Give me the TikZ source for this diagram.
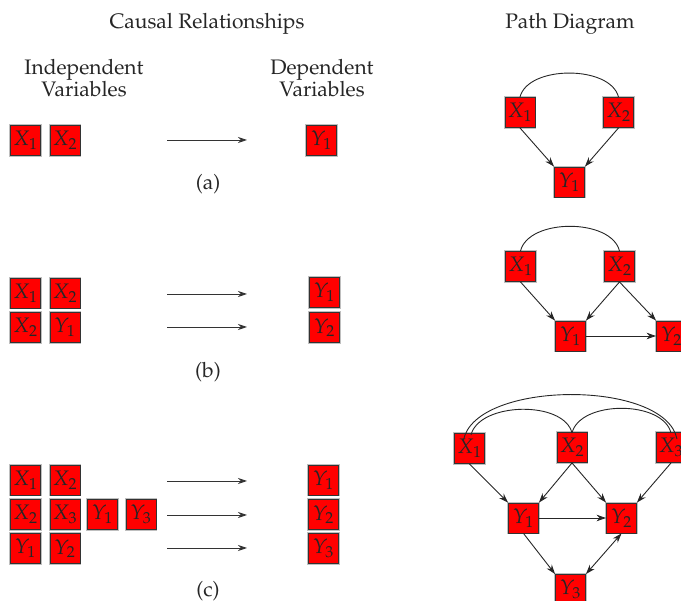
\documentclass[tikz,border=0pt]{standalone}
\usepackage[T1]{fontenc}
\usepackage{mathpazo}
\usetikzlibrary{arrows.meta}
\begin{document}
\begin{tikzpicture}[x=1pt,y=-1pt,
  every node/.style={font=\fontsize{21}{21.5}\selectfont},
  var/.style={draw=black!80,line width=0.9pt,fill=red,minimum size=30pt,inner sep=0pt,
    preaction={draw=black!25,line width=2.6pt},text=black!85},
  lbl/.style={align=center,text=black!85},
  harrow/.style={draw=black!80,line width=0.9pt,-{Stealth[length=9pt,width=6pt]}},
  parrow/.style={draw=black!85,line width=0.9pt,-{Stealth[length=9.5pt,width=6.5pt]}},
  darrow/.style={draw=black!85,line width=0.9pt,{Stealth[length=9.5pt,width=6.5pt]}-{Stealth[length=9.5pt,width=6.5pt]}},
  arcline/.style={draw=black!85,line width=0.9pt}]
\useasboundingbox (0,0) rectangle (681,601);
% headers
\node[lbl] (h1) at (207,24) {Causal Relationships};
\node[lbl] (h2) at (570,24) {Path Diagram};
\node[lbl] (h3) at (84,78) {Independent\\Variables};
\node[lbl] (h4) at (322,78) {Dependent\\Variables};
% (a) left
\node[var] (a1) at (25.5,140.5) {$X_1$};
\node[var] (a2) at (65,140.5) {$X_2$};
\node[var] (ay) at (321.5,140.5) {$Y_1$};
\coordinate (as) at (167,140);
\coordinate (ae) at (247,140);
\draw[harrow] (as) -- (ae);
\node[lbl] (la) at (208,184) {(a)};
% (a) right
\node[var] (pax1) at (520,112.5) {$X_1$};
\node[var] (pax2) at (618.5,112.5) {$X_2$};
\node[var] (pay1) at (569.5,182) {$Y_1$};
\draw[arcline] (pax1.north) .. controls +(8,-32) and +(-8,-32) .. (pax2.north);
\draw[parrow] (pax1.south) -- (pay1.north west);
\draw[parrow] (pax2.south) -- (pay1.north east);
% (b) left
\node[var] (b11) at (25.5,293) {$X_1$};
\node[var] (b12) at (65,293) {$X_2$};
\node[var] (b21) at (25.5,327.5) {$X_2$};
\node[var] (b22) at (65,327.5) {$Y_1$};
\node[var] (by1) at (324.5,292.5) {$Y_1$};
\node[var] (by2) at (324.5,327.5) {$Y_2$};
\coordinate (bs1) at (167,294);
\coordinate (be1) at (247,294);
\coordinate (bs2) at (167,327);
\coordinate (be2) at (247,327);
\draw[harrow] (bs1) -- (be1);
\draw[harrow] (bs2) -- (be2);
\node[lbl] (lb) at (208,372) {(b)};
% (b) right
\node[var] (pbx1) at (520.5,266.5) {$X_1$};
\node[var] (pbx2) at (619.5,266.5) {$X_2$};
\node[var] (pby1) at (570.5,336) {$Y_1$};
\node[var] (pby2) at (671.5,336) {$Y_2$};
\draw[arcline] (pbx1.north) .. controls +(8,-33) and +(-8,-33) .. (pbx2.north);
\draw[parrow] (pbx1.south) -- (pby1.north west);
\draw[parrow] (pbx2.south) -- (pby1.north east);
\draw[parrow] (pbx2.south) -- (pby2.north west);
\draw[parrow] (pby1.east) -- (pby2.west);
% (c) left
\node[var] (c11) at (25.5,480) {$X_1$};
\node[var] (c12) at (65,480) {$X_2$};
\node[var] (c21) at (25.5,514.5) {$X_2$};
\node[var] (c22) at (65,514.5) {$X_3$};
\node[var] (c23) at (102.5,514.5) {$Y_1$};
\node[var] (c24) at (141,514.5) {$Y_3$};
\node[var] (c31) at (25.5,548.5) {$Y_1$};
\node[var] (c32) at (65,548.5) {$Y_2$};
\node[var] (cy1) at (323.5,480) {$Y_1$};
\node[var] (cy2) at (323.5,514.5) {$Y_2$};
\node[var] (cy3) at (323.5,548.5) {$Y_3$};
\coordinate (cs1) at (167,481);
\coordinate (ce1) at (247,481);
\coordinate (cs2) at (167,515);
\coordinate (ce2) at (247,515);
\coordinate (cs3) at (167,548);
\coordinate (ce3) at (247,548);
\draw[harrow] (cs1) -- (ce1);
\draw[harrow] (cs2) -- (ce2);
\draw[harrow] (cs3) -- (ce3);
\node[lbl] (lc) at (208,591) {(c)};
% (c) right
\node[var] (pcx1) at (469.5,448.5) {$X_1$};
\node[var] (pcx2) at (572,447.5) {$X_2$};
\node[var] (pcx3) at (671,447.5) {$X_3$};
\node[var] (pcy1) at (523.5,518) {$Y_1$};
\node[var] (pcy2) at (621.5,518) {$Y_2$};
\node[var] (pcy3) at (570.5,589.5) {$Y_3$};
\draw[arcline] ([xshift=-6pt,yshift=-7pt]pcx1.north) .. controls +(12,-60) and +(-12,-60) .. ([xshift=6pt,yshift=-7pt]pcx3.north);
\draw[arcline] ([xshift=1.5pt,yshift=-2pt]pcx1.north) .. controls +(8,-33) and +(-8,-33) .. ([yshift=-1pt]pcx2.north);
\draw[arcline] ([yshift=-1pt]pcx2.north) .. controls +(8,-33) and +(-8,-33) .. ([yshift=-1pt]pcx3.north);
\draw[parrow] (pcx1.south) -- (pcy1.north west);
\draw[parrow] (pcx2.south) -- (pcy1.north east);
\draw[parrow] (pcx2.south) -- (pcy2.north west);
\draw[parrow] (pcx3.south) -- (pcy2.north east);
\draw[parrow] (pcy1.east) -- (pcy2.west);
\draw[parrow] (pcy1.south) -- (pcy3.north west);
\draw[darrow] (pcy2.south) -- (pcy3.north east);
\end{tikzpicture}
\end{document}
